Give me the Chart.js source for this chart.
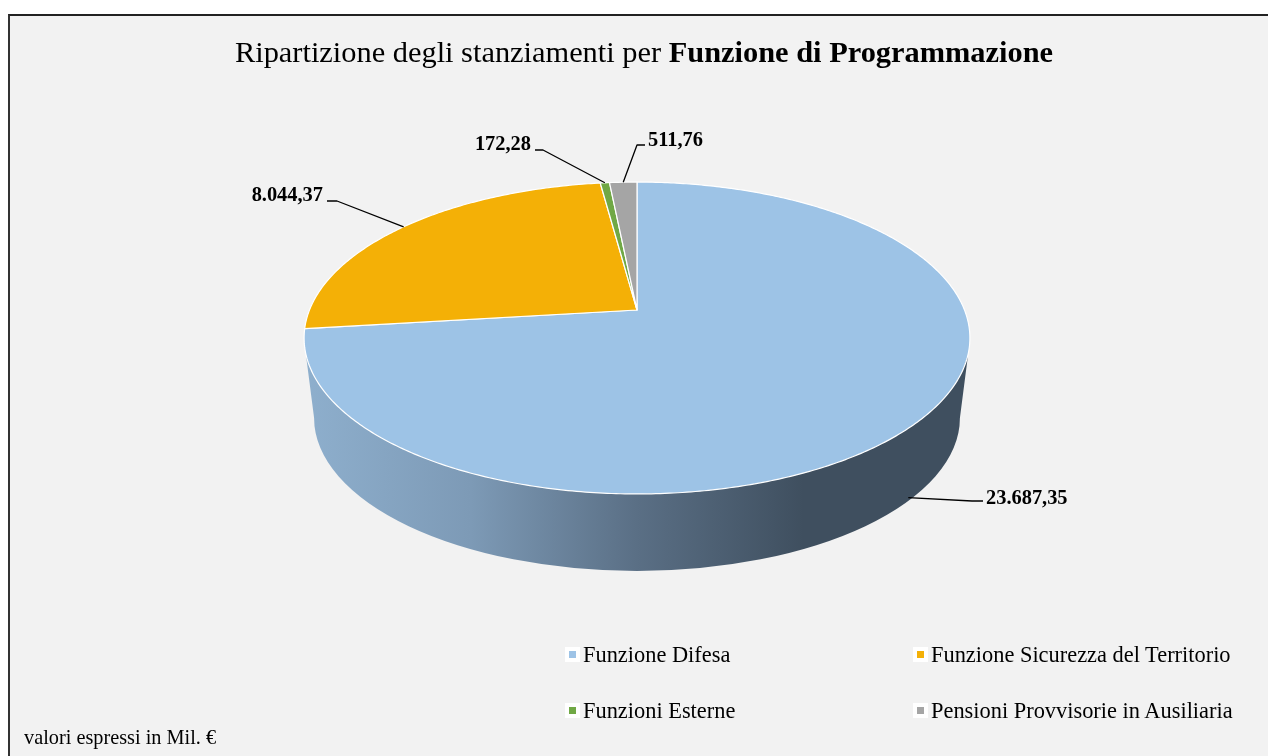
<!DOCTYPE html>
<html lang="it">
<head>
<meta charset="utf-8">
<title>Ripartizione degli stanziamenti</title>
<script src="https://cdn.jsdelivr.net/npm/chart.js@4"></script>
<style>
    html, body { margin: 0; padding: 0; background: #fff; }
    body { width: 1268px; height: 756px; position: relative; overflow: hidden; font-family: "Liberation Serif", serif; color: #000; }
    #frame { position: absolute; left: 8px; top: 14px; right: 0; bottom: 0; background: #f2f2f2; border-left: 2px solid #333; border-top: 2px solid #222; }
    #pie { position: absolute; left: 0; top: 0; }
    #title { position: absolute; left: 0; top: 35px; width: 1288px; text-align: center; font-size: 30.4px; line-height: 34px; white-space: nowrap; }
    #note { position: absolute; left: 24px; top: 726px; font-size: 20.3px; line-height: 22px; white-space: nowrap; }
    .legend-item { position: absolute; font-size: 22.4px; line-height: 24px; white-space: nowrap; padding-left: 18px; }
    .legend-item i { position: absolute; left: 0; top: 4px; width: 7px; height: 7px; border: 4px solid #fff; }
</style>
</head>
<body>
<div id="frame"></div>
<canvas id="pie" width="1268" height="756"></canvas>
<div id="title">Ripartizione degli stanziamenti per <b>Funzione di Programmazione</b></div>
<div id="note">valori espressi in Mil. €</div>
<script>
const categories = ["Funzione Difesa", "Funzione Sicurezza del Territorio", "Funzioni Esterne", "Pensioni Provvisorie in Ausiliaria"];
const values = [23687.35, 8044.37, 172.28, 511.76];
const valueLabels = ["23.687,35", "8.044,37", "172,28", "511,76"];
const colors = ["#9dc3e6", "#f4b006", "#70a845", "#a5a5a5"];

// perspective of the tilted disc
const apexY = 310;
const squash = 0.4608;
const tilt = -0.1795;
const depth = 74;

// where each label sits, leader goes arc -> elbow -> stub -> text
const labelSpots = [
    { x: 972, y: 501, stub: 11, textY: 499, onWall: true },
    { x: 337, y: 201, stub: -10, textY: 196 },
    { x: 543, y: 150, stub: -8, textY: 145 },
    { x: 637, y: 145, stub: 8, textY: 141 }
];

function project(arc, angle) {
    const u = Math.cos(angle);
    const v = Math.sin(angle);
    const w = 1 + tilt * v;
    return {
        x: arc.x + arc.outerRadius * u / w,
        y: apexY + arc.outerRadius * squash * v / w
    };
}

function drawWall(ctx, arc) {
    const rx = arc.outerRadius;
    const ryTop = 156;
    const midTop = 338;
    const left = arc.x - rx / Math.sqrt(1 - tilt * tilt);
    const right = arc.x + rx / Math.sqrt(1 - tilt * tilt);
    const grad = ctx.createLinearGradient(left, 0, right, 0);
    grad.addColorStop(0, "#8eafcd");
    grad.addColorStop(0.25, "#7d9ab6");
    grad.addColorStop(0.5, "#5a6f85");
    grad.addColorStop(0.75, "#3f4f5f");
    grad.addColorStop(1, "#3f4f5f");
    ctx.save();
    ctx.beginPath();
    ctx.moveTo(left + 2, midTop + 18);
    ctx.lineTo(left + 10, midTop + 80);
    ctx.ellipse(arc.x, midTop + 80, right - arc.x - 10, ryTop - 3, 0, Math.PI, 0, true);
    ctx.lineTo(right - 2, midTop + 18);
    ctx.lineTo(arc.x, midTop);
    ctx.closePath();
    ctx.fillStyle = grad;
    ctx.fill();
    ctx.restore();
}

function drawSlice(ctx, arc, color) {
    const steps = Math.max(4, Math.ceil((arc.endAngle - arc.startAngle) * 90));
    ctx.beginPath();
    ctx.moveTo(arc.x, apexY);
    for (let i = 0; i <= steps; i++) {
        const p = project(arc, arc.startAngle + (arc.endAngle - arc.startAngle) * i / steps);
        ctx.lineTo(p.x, p.y);
    }
    ctx.closePath();
    ctx.fillStyle = color;
    ctx.fill();
    ctx.strokeStyle = "#fff";
    ctx.lineWidth = 1.2;
    ctx.lineJoin = "round";
    ctx.stroke();
}

function drawLabel(ctx, arc, text, spot) {
    const p = project(arc, (arc.startAngle + arc.endAngle) / 2);
    if (spot.onWall) {
        p.x -= 7;
        p.y += depth;
    }
    ctx.beginPath();
    ctx.moveTo(p.x, p.y);
    ctx.lineTo(spot.x, spot.y);
    ctx.lineTo(spot.x + spot.stub, spot.y);
    ctx.strokeStyle = "#000";
    ctx.lineWidth = 1.3;
    ctx.stroke();
    ctx.font = "bold 20.4px 'Liberation Serif'";
    ctx.fillStyle = "#000";
    ctx.textBaseline = "middle";
    const toRight = spot.stub > 0;
    ctx.textAlign = toRight ? "left" : "right";
    ctx.fillText(text, spot.x + spot.stub + (toRight ? 3 : -4), spot.textY);
}

const tiltedPie = {
    id: "tiltedPie",
    beforeDatasetDraw(chart, args) {
        const ctx = chart.ctx;
        const arcs = args.meta.data;
        drawWall(ctx, arcs[0]);
        arcs.forEach((arc, i) => drawSlice(ctx, arc, colors[i]));
        arcs.forEach((arc, i) => drawLabel(ctx, arc, valueLabels[i], labelSpots[i]));
        return false;
    }
};

const chart = new Chart(document.getElementById("pie"), {
    type: "pie",
    data: {
        labels: categories,
        datasets: [{ data: values, backgroundColor: colors, borderWidth: 0 }]
    },
    options: {
        responsive: false,
        animation: false,
        layout: { padding: { left: 6, right: 0, top: 50, bottom: 51 } },
        plugins: {
            legend: { display: false },
            tooltip: { enabled: false }
        }
    },
    plugins: [tiltedPie]
});

// legend, two columns
const legendSpots = [[565, 643], [913, 643], [565, 699], [913, 699]];
categories.forEach((name, i) => {
    const item = document.createElement("div");
    item.className = "legend-item";
    item.style.left = legendSpots[i][0] + "px";
    item.style.top = legendSpots[i][1] + "px";
    const box = document.createElement("i");
    box.style.background = colors[i];
    item.appendChild(box);
    item.appendChild(document.createTextNode(name));
    document.body.appendChild(item);
});
</script>
</body>
</html>
